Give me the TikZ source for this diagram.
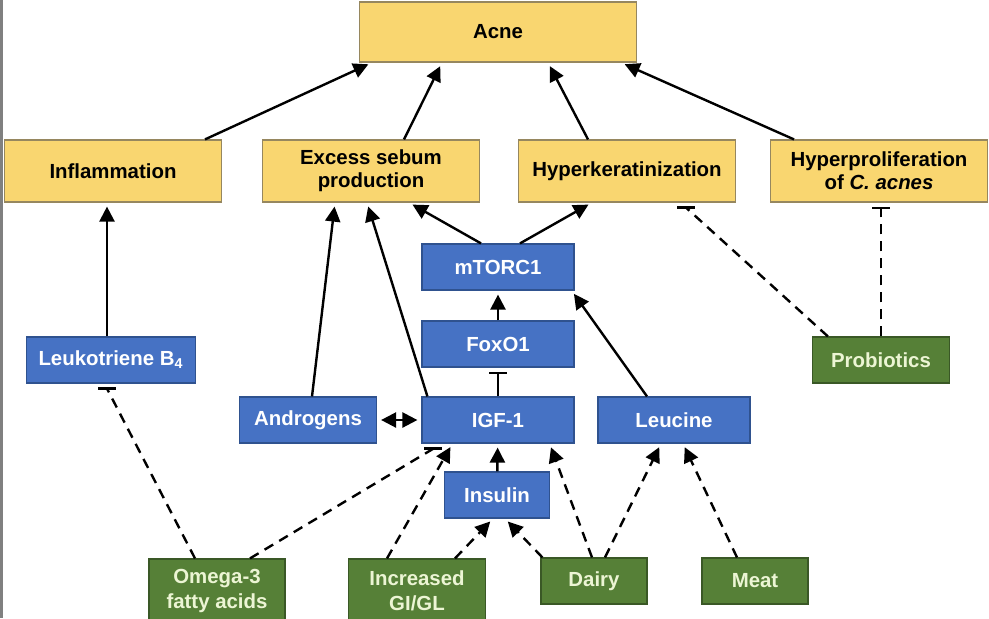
\documentclass[tikz,border=0pt]{standalone}
\usepackage{fontspec}
\setmainfont{Liberation Sans}
\usetikzlibrary{calc,arrows.meta,positioning}

\definecolor{acneyellow}{RGB}{249,214,112}
\definecolor{acneyellowline}{RGB}{150,135,95}
\definecolor{acneblue}{RGB}{70,114,196}
\definecolor{acneblueline}{RGB}{47,82,143}
\definecolor{acnegreen}{RGB}{86,128,55}
\definecolor{acnegreenline}{RGB}{58,88,38}
\definecolor{acnegreentext}{RGB}{236,245,212}

\begin{document}
\begin{tikzpicture}[
	x = 0.5pt, y = -0.5pt,
	font = \fontsize{10.2}{11.6}\selectfont\bfseries,
    line width = 1.2pt,
        >={Triangle[length=7.5pt,width=7.5pt]},
    box/.style = {
      draw,
      line width = 0.6pt,
      align = center,
      inner sep = 1pt,
      minimum width = 76pt,
      minimum height = 23pt},
    ybox/.style = {box, fill = acneyellow, draw = acneyellowline,
      minimum width = 108.5pt, minimum height = 31pt},
    bbox/.style = {box, fill = acneblue, draw = acneblueline, text = white},
    gbox/.style = {box, fill = acnegreen, draw = acnegreenline, text = acnegreentext},
    act/.style = {->, shorten > = 2pt},
    inh/.style = {-{Bar[width=9pt]}, shorten > = 2pt},
    diet/.style = {dash pattern = on 5pt off 3.5pt}
      ]
  \useasboundingbox (0,0) rectangle (989,618);
  \clip (0,0) rectangle (989,618);
  \draw[gray, line width = 1.5pt] (1,0) -- (1,618);

  % Outcome and the four mechanisms
  \node[ybox, minimum width = 138.5pt, minimum height = 30pt] (acne) at (498,32) {Acne};
  \node[ybox] (infl)   at (113,171) {Inflammation};
  \node[ybox] (sebum)  at (371,171) {Excess sebum\\production};
  \node[ybox] (hyperk) at (627,171) {Hyperkeratinization};
  \node[ybox] (hyperp) at (879,171) {Hyperproliferation\\of \textit{C. acnes}};

  % Signalling
  \node[bbox, minimum width = 84.5pt] (leuk) at (111,360) {Leukotriene B\textsubscript{4}};
  \node[bbox] (mtor)  at (498,267) {mTORC1};
  \node[bbox] (foxo)  at (498,344) {FoxO1};
  \node[bbox] (igf)   at (498,420) {IGF-1};
  \node[bbox, minimum width = 68.5pt] (andro) at (308,420) {Androgens};
  \node[bbox] (leuc)  at (674,420) {Leucine};
  \node[bbox, minimum width = 52.5pt] (insul) at (497,495) {Insulin};

  % Diet
  \node[gbox, minimum width = 68.5pt] (probio) at (881,360) {Probiotics};
  \node[gbox, minimum width = 68pt, minimum height = 32pt,
    font = \fontsize{10.2}{12.6}\selectfont\bfseries] (omega) at (217,591) {Omega-3\\fatty acids};
  \node[gbox, minimum width = 68.5pt, minimum height = 32pt,
    font = \fontsize{10.2}{12.6}\selectfont\bfseries] (gigl) at (417,591) {Increased\\GI/GL};
  \node[gbox, minimum width = 53pt] (dairy) at (594,581) {Dairy};
  \node[gbox, minimum width = 53pt] (meat)  at (755,581) {Meat};

  % Mechanisms -> acne
  \draw[act] ($(infl.north)+(92,0)$)   -- ($(acne.south)+(-126,0)$);
  \draw[act] ($(sebum.north)+(33,0)$)  -- ($(acne.south)+(-56,0)$);
  \draw[act] ($(hyperk.north)+(-39,0)$) -- ($(acne.south)+(50,0)$);
  \draw[act] ($(hyperp.north)+(-85,0)$) -- ($(acne.south)+(123,0)$);

  % Signalling -> mechanisms
  \draw[act] ($(leuk.north)+(-4,0)$) -- ($(infl.south)+(-6,0)$);
  \draw[act] ($(andro.north)+(4,0)$) -- ($(sebum.south)+(-36,0)$);
  \draw[act] ($(igf.north west)+(6,0)$) -- ($(sebum.south)+(-4,0)$);
  \draw[act] ($(mtor.north)+(-17,0)$) -- ($(sebum.south)+(38,0)$);
  \draw[act] ($(mtor.north)+(22,0)$) -- ($(hyperk.south)+(-35,0)$);
  \draw[act] (foxo) -- (mtor);
  \draw[inh] (igf) -- (foxo);
  \draw[act] ($(leuc.north)+(-27,0)$) -- ($(mtor.south east)+(-3,0)$);
  \draw[<->, shorten < = 2pt, shorten > = 2pt] (andro) -- (igf);
  \draw[act] (insul) -- (igf);

  % Diet -> signalling (slanted blocks end in a flat bar)
  \draw[diet] ($(probio.north west)+(16,0)$) -- ($(hyperk.south)+(59,5)$) coordinate (tk);
  \draw ([xshift=-4.5pt]tk) -- ([xshift=4.5pt]tk);
  \draw[inh, diet] (probio.north) -- (probio.north |- hyperp.south);
  \draw[diet] ($(omega.north)+(-22,0)$) -- ($(leuk.south)+(-4,5)$) coordinate (tl);
  \draw ([xshift=-4.5pt]tl) -- ([xshift=4.5pt]tl);
  \draw[diet] ($(omega.north)+(33,0)$) -- ($(igf.south west)+(12,5)$) coordinate (ti);
  \draw ([xshift=-4.5pt]ti) -- ([xshift=4.5pt]ti);
  \draw[act, diet] ($(gigl.north)+(-30,0)$) -- ($(igf.south west)+(31,0)$);
  \draw[act, diet] ($(gigl.north)+(38,0)$) -- ($(insul.south)+(-4,0)$);
  \draw[act, diet] ($(dairy.north west)+(2,0)$) -- ($(insul.south)+(8,0)$);
  \draw[act, diet] ($(dairy.north)+(-2,0)$) -- ($(igf.south east)+(-25,0)$);
  \draw[act, diet] ($(dairy.north)+(11,0)$) -- ($(leuc.south)+(-13,0)$);
  \draw[act, diet] ($(meat.north)+(-18,0)$) -- ($(leuc.south)+(9,0)$);

\end{tikzpicture}
\end{document}
